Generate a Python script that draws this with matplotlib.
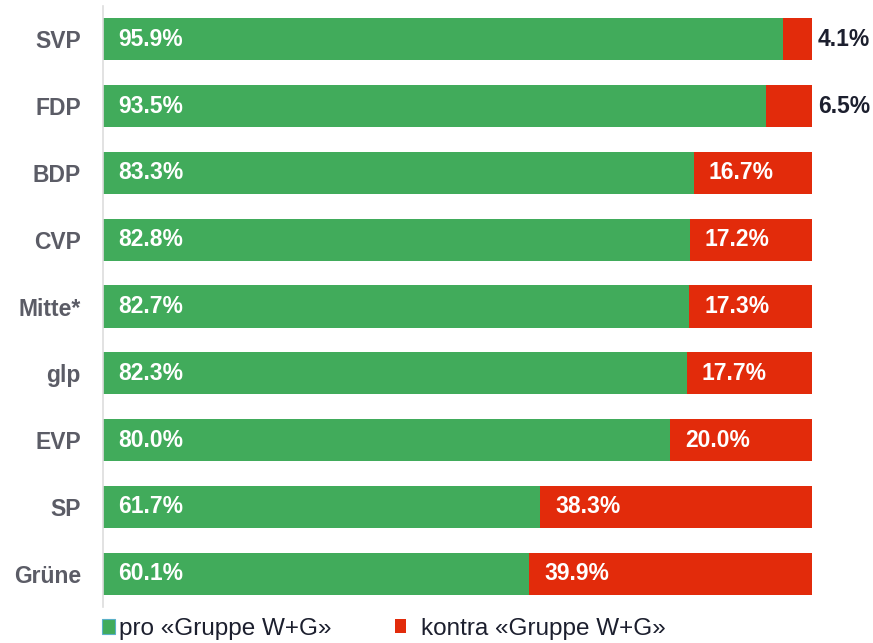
import matplotlib
matplotlib.use("Agg")
import matplotlib.pyplot as plt
from matplotlib.patches import Patch

plt.rcParams["font.family"] = ["Liberation Sans", "DejaVu Sans"]

parties = ["SVP", "FDP", "BDP", "CVP", "Mitte*", "glp", "EVP", "SP", "Grüne"]
pro = [95.9, 93.5, 83.3, 82.8, 82.7, 82.3, 80.0, 61.7, 60.1]
contra = [4.1, 6.5, 16.7, 17.2, 17.3, 17.7, 20.0, 38.3, 39.9]
legend_labels = ["pro «Gruppe W+G»", "kontra «Gruppe W+G»"]

GREEN = "#41AB5B"
RED = "#E22B0B"

fig = plt.figure(figsize=(8.73, 6.43), dpi=100)
ax = fig.add_axes([103 / 873, 1 - 607 / 643, 709 / 873, 601 / 643])

y = list(range(len(parties)))
ax.barh(y, pro, height=0.63, color=GREEN, edgecolor="none")
ax.barh(y, contra, left=pro, height=0.63, color=RED, edgecolor="none")

off = 2.1  # ~15px offset in data units
fs = 16.5
for i, (p, c) in enumerate(zip(pro, contra)):
    ax.text(off, i, f"{p:.1f}%", color="white", fontsize=fs, fontweight="bold",
            va="center", ha="left")
    if c < 10:
        ax.text(100.8, i, f"{c:.1f}%", color="#1c1f2e", fontsize=fs,
                fontweight="bold", va="center", ha="left", clip_on=False)
    else:
        ax.text(p + off, i, f"{c:.1f}%", color="white", fontsize=fs,
                fontweight="bold", va="center", ha="left")

ax.set_xlim(0, 100)
ax.set_ylim(len(parties) - 0.5, -0.5)
ax.set_yticks(y)
ax.set_yticklabels(parties, fontsize=16.5, fontweight="bold", color="#5b5c66")
ax.tick_params(axis="y", length=0, pad=16)
ax.set_xticks([])
for s in ["top", "right", "bottom"]:
    ax.spines[s].set_visible(False)
ax.spines["left"].set_color("#dddddd")
ax.spines["left"].set_linewidth(1.2)

# two single-entry legends so each marker can sit where the original has it
leg_kw = dict(loc="center left", frameon=False, fontsize=17.5, borderpad=0,
              borderaxespad=0, labelcolor="#1c1f2e")
fig.legend([Patch(facecolor=GREEN, edgecolor="#5ab0c8", linewidth=0.8)],
           [legend_labels[0]], bbox_to_anchor=(102 / 873, 1 - 629 / 643),
           handlelength=0.53, handleheight=0.62, handletextpad=0.17, **leg_kw)
fig.legend([Patch(facecolor=RED, edgecolor="none")],
           [legend_labels[1]], bbox_to_anchor=(395 / 873, 1 - 629 / 643),
           handlelength=0.45, handleheight=0.5, handletextpad=0.6, **leg_kw)

fig.savefig("out.png", dpi=100, facecolor="white")
